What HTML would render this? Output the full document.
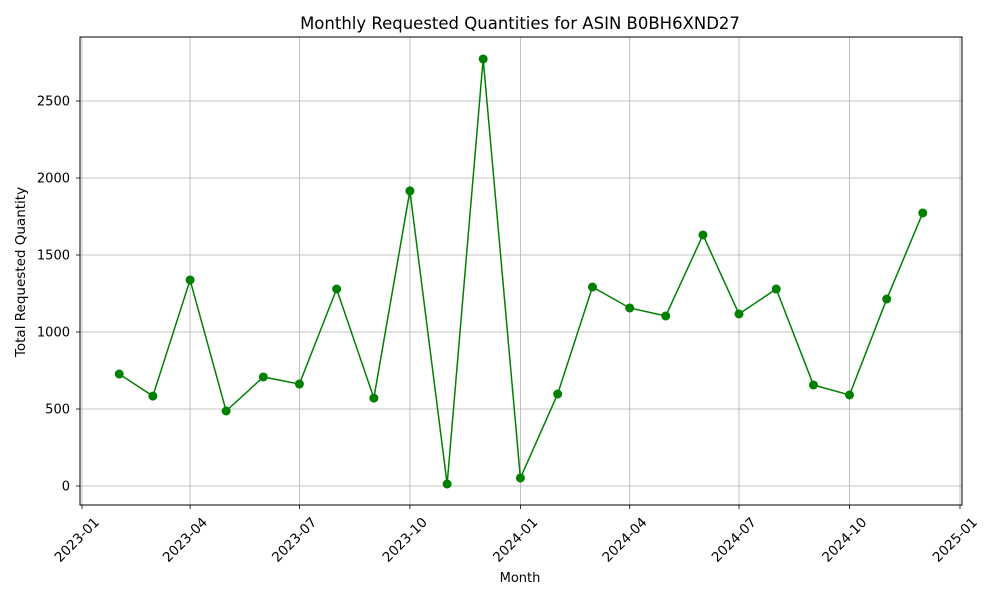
<!DOCTYPE html>
<html><head><meta charset="utf-8"><style>
html,body{margin:0;padding:0;background:#fff;}
svg{display:block;font-family:"DejaVu Sans","Liberation Sans",sans-serif;}
</style></head><body>
<svg id="chart" width="1000" height="600" viewBox="0 0 1000 600">
<text x="520" y="29" text-anchor="middle" font-size="16.5" fill="#000">Monthly Requested Quantities for ASIN B0BH6XND27</text>
<text x="520" y="582" text-anchor="middle" font-size="13" fill="#000">Month</text>
<text transform="translate(25,272) rotate(-90)" text-anchor="middle" font-size="13.5" fill="#000">Total Requested Quantity</text>
<g id="grid"></g>
<g id="axes"></g>
<g id="series"></g>
</svg>
<script>
const months = ["2023-02","2023-03","2023-04","2023-05","2023-06","2023-07","2023-08","2023-09","2023-10","2023-11","2023-12","2024-01","2024-02","2024-03","2024-04","2024-05","2024-06","2024-07","2024-08","2024-09","2024-10","2024-11","2024-12"];
const quantities = [727,584,1338,487,708,662,1279,571,1916,13,2773,52,597,1292,1156,1104,1630,1117,1279,656,591,1214,1773];
const xTickLabels = ["2023-01","2023-04","2023-07","2023-10","2024-01","2024-04","2024-07","2024-10","2025-01"];
const yTickValues = [0,500,1000,1500,2000,2500];

const NS="http://www.w3.org/2000/svg";
const L=80,R=962,T=37,B=505;
const t0=Date.UTC(2023,0,1), t1=Date.UTC(2025,0,1);
const x0=82, x1=960;
function dt(s){const p=s.split("-");return Date.UTC(+p[0],+p[1]-1,1);}
function xs(s){return x0+(dt(s)-t0)/(t1-t0)*(x1-x0);}
function ys(v){return 486-v*(385/2500);}
function mk(tag,attrs,parent){const e=document.createElementNS(NS,tag);for(const k in attrs)e.setAttribute(k,attrs[k]);parent.appendChild(e);return e;}
const grid=document.getElementById("grid"),axes=document.getElementById("axes"),series=document.getElementById("series");

yTickValues.forEach(v=>{
  const y=ys(v);
  const g=mk("line",{x1:L,x2:R,y1:y,y2:y,stroke:"#b0b0b0","stroke-width":0.8},grid);
  
  
  mk("line",{x1:L-4,x2:L,y1:y,y2:y,stroke:"#000","stroke-width":0.8},axes);
  const t=mk("text",{x:L-10,y:y+4.5,"text-anchor":"end","font-size":13,fill:"#000"},axes);
  t.textContent=v;
  
  
});
xTickLabels.forEach(s=>{
  const x=xs(s);
  const g=mk("line",{x1:x,x2:x,y1:T,y2:B,stroke:"#b0b0b0","stroke-width":0.8},grid);
  
  
  mk("line",{x1:x,x2:x,y1:B,y2:B+4,stroke:"#000","stroke-width":0.8},axes);
  const t=mk("text",{transform:`translate(${x+18},${B+18}) rotate(-45)`,"text-anchor":"end","font-size":13.5,fill:"#000"},axes);
  t.textContent=s;
  
  
});
const frame=mk("rect",{x:L,y:T,width:R-L,height:B-T,fill:"none",stroke:"#000","stroke-width":1},axes);



const pts=months.map((m,i)=>xs(m)+","+ys(quantities[i])).join(" ");
const line=mk("polyline",{points:pts,fill:"none",stroke:"#008000","stroke-width":1.5},series);


months.forEach((m,i)=>{
  const c=mk("circle",{cx:xs(m),cy:ys(quantities[i]),r:4.5,fill:"#008000"},series);
  
  
});
</script>
</body></html>
